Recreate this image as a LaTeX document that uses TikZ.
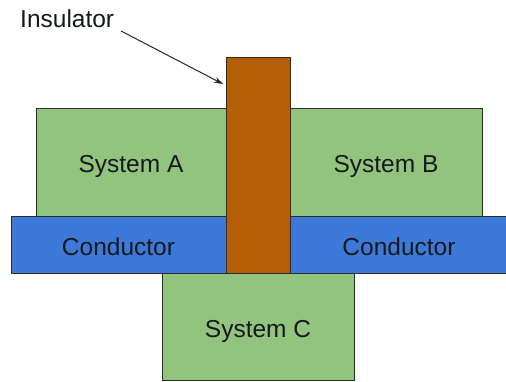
\documentclass[tikz,border=0pt]{standalone}
\usepackage{fontspec}
\setmainfont{Liberation Sans}
\usetikzlibrary{arrows.meta}
\definecolor{sysgreen}{RGB}{147,196,125}
\definecolor{condblue}{RGB}{61,121,216}
\definecolor{insbrown}{RGB}{180,95,6}
\definecolor{edgegray}{RGB}{45,45,45}
\definecolor{txt}{RGB}{20,25,30}
\begin{document}
\begin{tikzpicture}[x=1pt,y=-1pt,
  lettering/.style={font=\fontsize{24.5}{28}\selectfont,text=txt},
  block/.style={draw=edgegray,line width=0.9pt,inner sep=0pt,outer sep=0pt,
    lettering,text height=21pt,text depth=0pt},
  system/.style={block,fill=sysgreen},
  conductor/.style={block,fill=condblue},
  insulator/.style={block,fill=insbrown},
  pointer/.style={draw=black!85,line width=1pt,-{Stealth[length=9pt,width=6pt]}}]
\useasboundingbox (0,0) rectangle (506,381);
% upper systems
\node[system,minimum width=190pt,minimum height=108pt] (sysA) at (131,162) {System A};
\node[system,minimum width=192pt,minimum height=108pt] (sysB) at (386,162) {System B};
% conductor strips
\node[conductor,minimum width=215pt,minimum height=57pt] (condL) at (118.5,244.5) {Conductor};
\node[conductor,minimum width=218pt,minimum height=57pt] (condR) at (399,244.5) {};
\node[lettering,inner sep=0pt,text height=21pt,text depth=0pt] (condRtext) at (399,244.5) {Conductor};
% insulating wall
\node[insulator,minimum width=64pt,minimum height=216pt] (ins) at (258,165) {};
% lower system
\node[system,minimum width=192pt,minimum height=107pt] (sysC) at (258,326.5) {System C};
% label and pointer
\node[anchor=base west,inner sep=0pt,lettering] (inslabel) at (20,27) {Insulator};
\coordinate (tail) at (121,31);
\coordinate (tip) at (223,84);
\draw[pointer] (tail) -- (tip);
\end{tikzpicture}
\end{document}
